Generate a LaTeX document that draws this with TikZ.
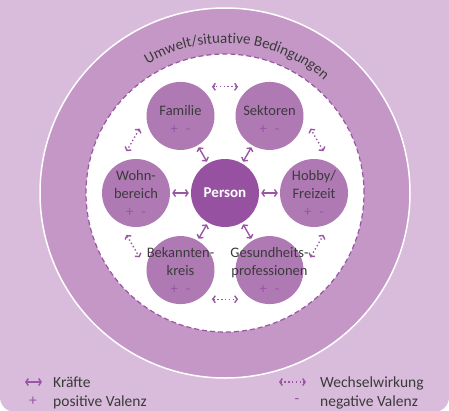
\documentclass[tikz,border=0pt]{standalone}
\usepackage{fontspec}
\setmainfont{Carlito}
\usetikzlibrary{arrows.meta,decorations.text}
\definecolor{Ink}{HTML}{3A3A3A}
\definecolor{Lilac}{HTML}{D9BCDB}
\definecolor{RingFill}{HTML}{C497C6}
\definecolor{SatFill}{HTML}{AF79B4}
\definecolor{CoreFill}{HTML}{9652A0}
\definecolor{Plum}{HTML}{9A55A5}
\tikzset{
  sat/.style={circle,fill=SatFill,minimum size=68pt,inner sep=0pt},
  core/.style={circle,fill=CoreFill,minimum size=68pt,inner sep=0pt,text=white,font=\fontsize{15}{18}\selectfont\bfseries},
  sl/.style={font=\fontsize{14.5}{18}\selectfont,text=Ink,align=center,inner sep=0pt},
  tip/.style={{Straight Barb[length=2.5pt,width=7pt]}-{Straight Barb[length=2.5pt,width=7pt]}},
  frc/.style={draw=Plum,line width=1.4pt,tip},
  wwk/.style={frc,dash pattern=on 1.4pt off 2.4pt},
  lg/.style={font=\fontsize{15.5}{19}\selectfont,text=Ink,anchor=base west,inner sep=0pt},
  sg/.style={font=\fontsize{15.5}{19}\selectfont,text=Plum,inner sep=0pt},
}
\newcommand{\pmsign}{{\color{Plum}+\hspace{0.55em}-}}

\begin{document}
\begin{tikzpicture}[x=1pt,y=1pt]
\useasboundingbox (-225,-217) rectangle (224,193);
% -backdrop and rings-
\fill[Lilac,rounded corners=15pt] (-225,-219) rectangle (224,230);
\draw[white,line width=1.5pt,fill=RingFill] (0,0) circle[radius=185];
\draw[Plum,line width=1.2pt,fill=white,dash pattern=on 5pt off 3pt] (0,0) circle[radius=139];
\path[decorate,decoration={text along path,text align=left,
  text={|\fontsize{15}{18}\selectfont\color{Ink}|Umwelt/situative Bedingungen}}]
  (121:150) arc[start angle=121,end angle=30,radius=150];
% -person and fields-
\node[core] (P) at (0,0) {Person};
\node[sat] (fam) at (120:89) {};
\node[sat] (sek) at (60:89) {};
\node[sat] (hob) at (0:89) {};
\node[sat] (ges) at (-60:89) {};
\node[sat] (bek) at (-120:89) {};
\node[sat] (wohn) at (180:89) {};
\node[sl,yshift=-4pt] (famt) at (fam) {Familie\\\pmsign};
\node[sl,yshift=-4pt] (sekt) at (sek) {Sektoren\\\pmsign};
\node[sl] (hobt) at (hob) {Hobby/\\Freizeit\\\pmsign};
\node[sl] (gest) at (ges) {Gesundheits-\\professionen\\\pmsign};
\node[sl] (bekt) at (bek) {Bekannten-\\kreis\\\pmsign};
\node[sl] (wohnt) at (wohn) {Wohn-\\bereich\\\pmsign};
% forces
\foreach \s in {fam,sek,hob,ges,bek,wohn}{\draw[frc,shorten <=2pt,shorten >=2pt] (P) -- (\s);}
% interplay between neighbours
\foreach \a [count=\i] in {30,90,150,210,270,330}{
  \coordinate (w\i a) at (\a-7:107);
  \coordinate (w\i b) at (\a+7:107);
  \draw[wwk] (w\i a) -- (w\i b);
}
% -legend-
\coordinate (k1) at (-200,-189);
\coordinate (k2) at (-183,-189);
\draw[frc] (k1) -- (k2);
\node[lg] (kr) at (-172,-194) {Kräfte};
\node[sg] (plus) at (-192,-208) {+};
\node[lg] (pv) at (-172,-213) {positive Valenz};
\coordinate (v1) at (54,-189);
\coordinate (v2) at (81,-189);
\draw[wwk] (v1) -- (v2);
\node[lg] (ww) at (95,-194) {Wechselwirkung};
\node[sg] (minus) at (72,-208) {-};
\node[lg] (nv) at (95,-213) {negative Valenz};
\end{tikzpicture}
\end{document}
